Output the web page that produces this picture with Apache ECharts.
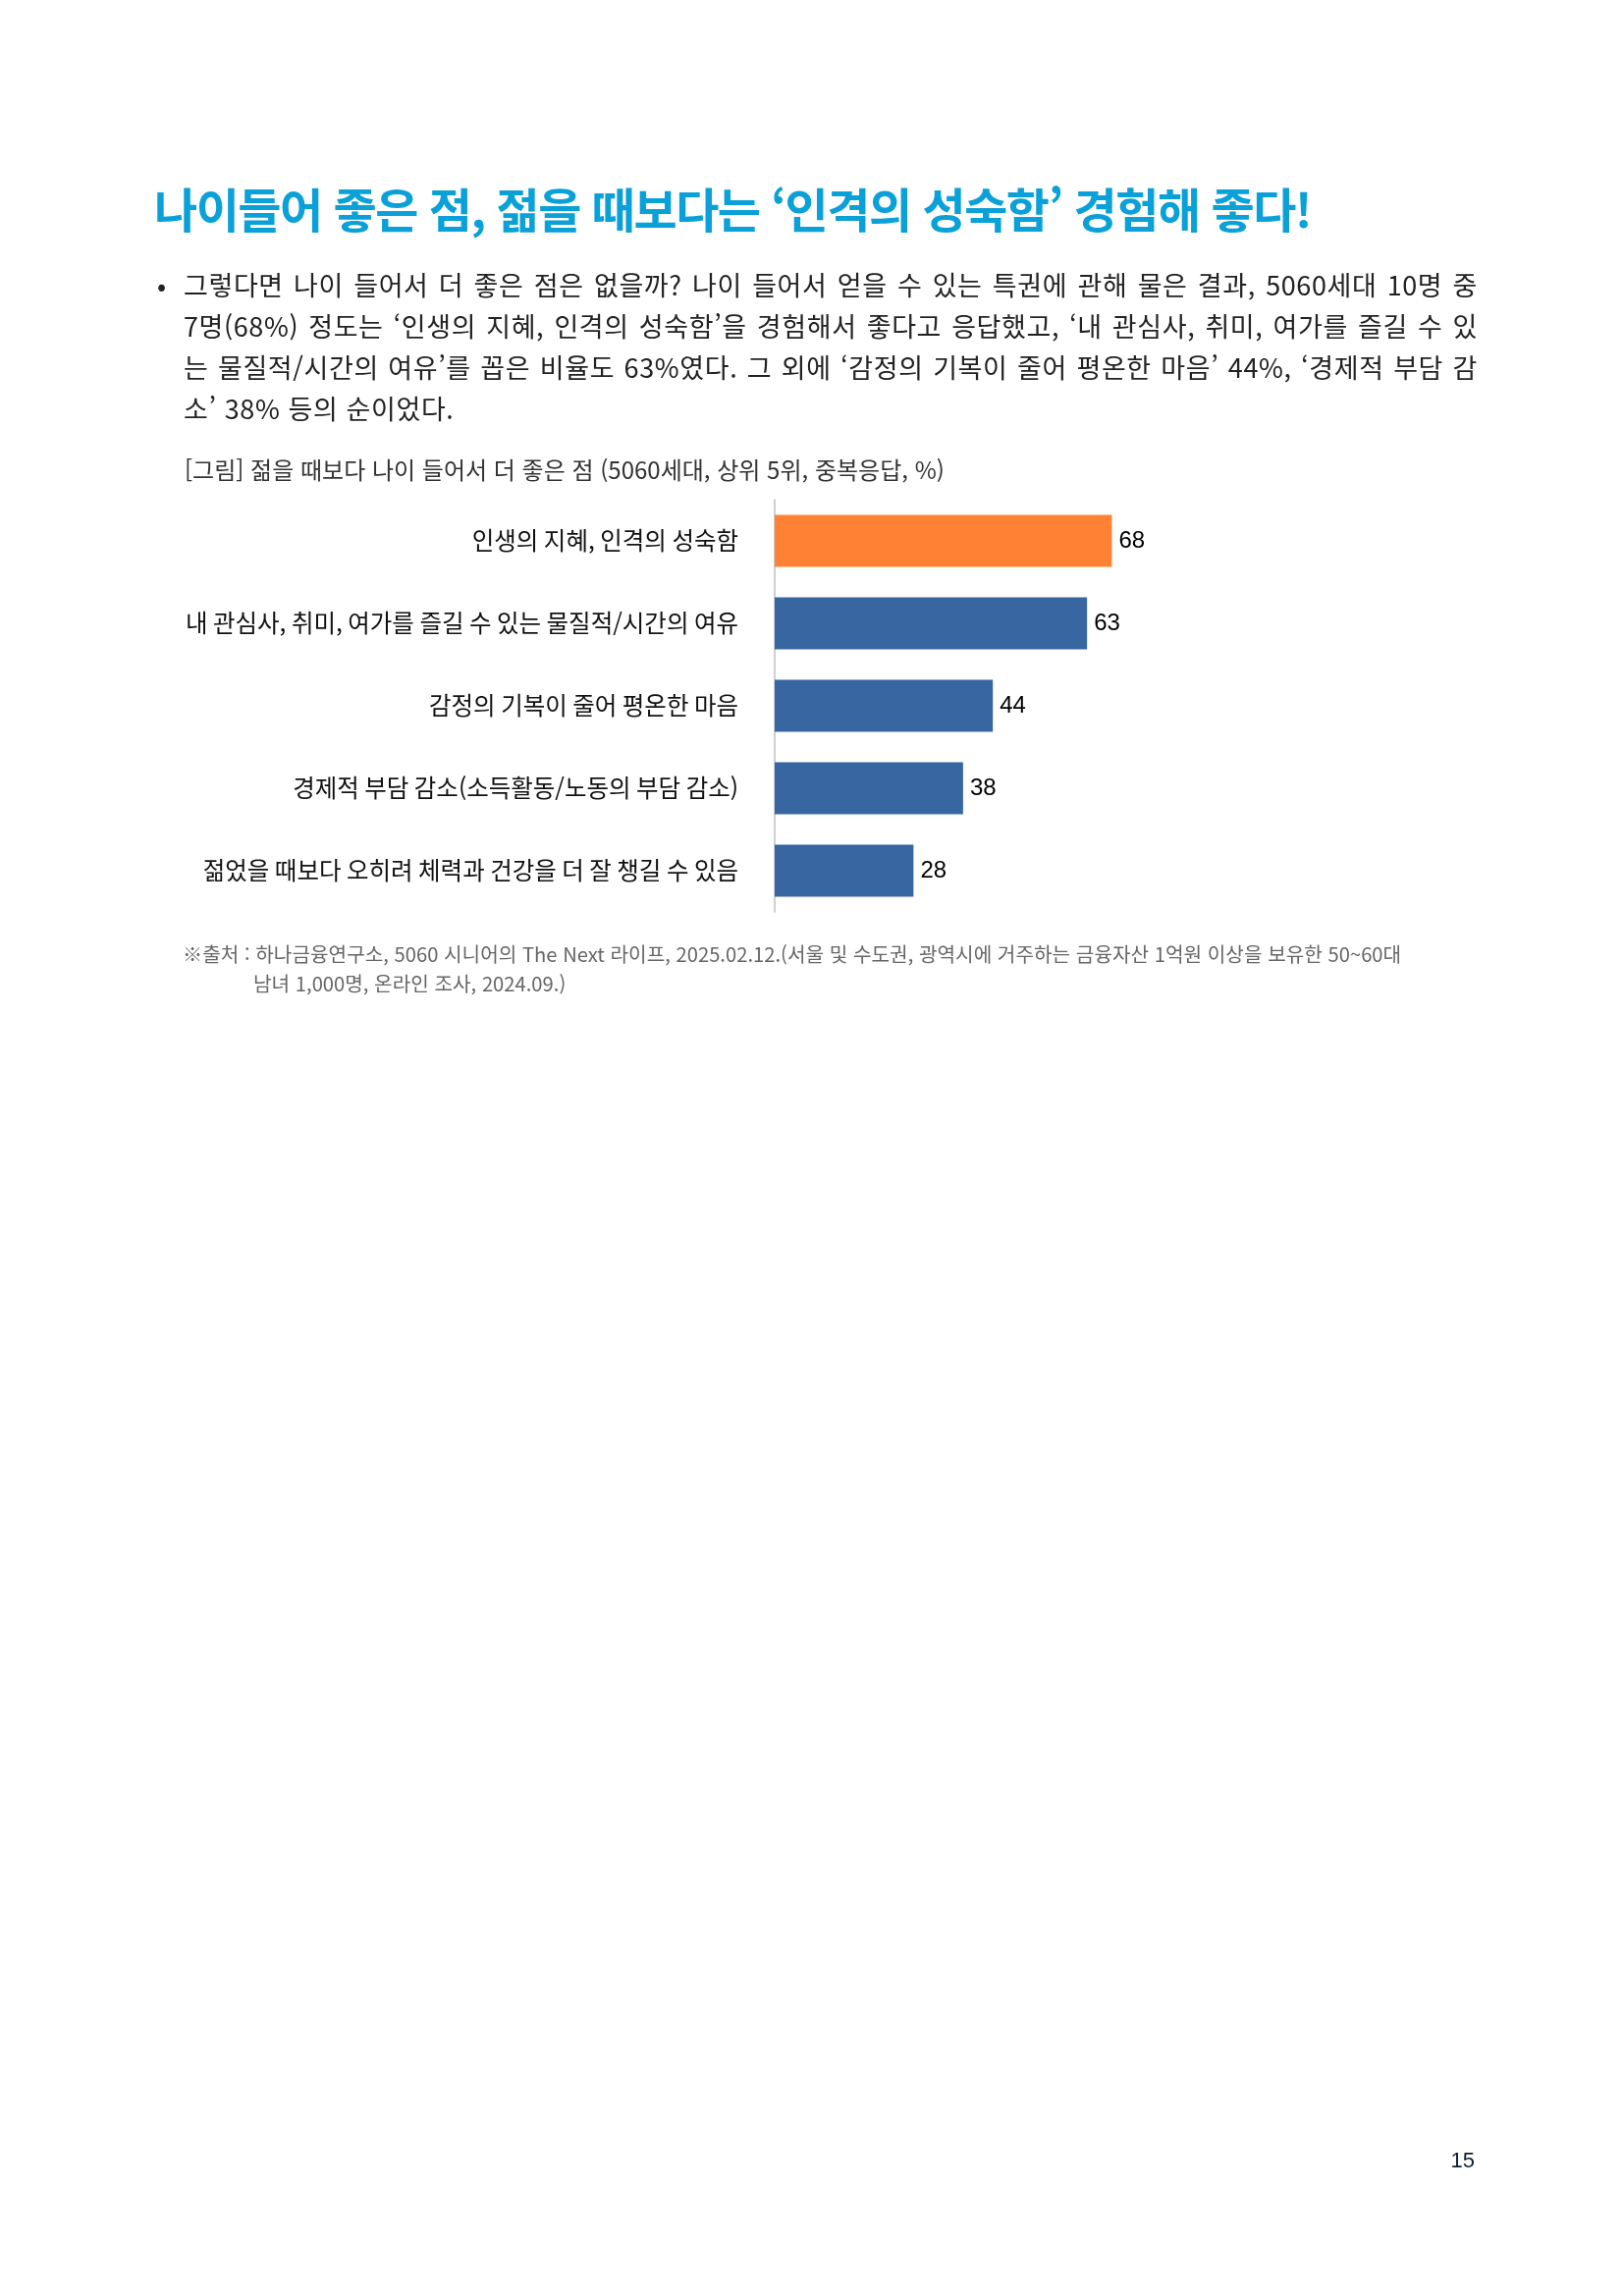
<!DOCTYPE html>
<html lang="ko">
<head>
<meta charset="UTF-8">
<title>젊을 때보다 나이 들어서 더 좋은 점</title>
<script src="https://cdn.jsdelivr.net/npm/echarts@6/dist/echarts.min.js"></script>
<style>
  html, body { margin: 0; padding: 0; background: #fff; }
  body { width: 1653px; height: 2339px; position: relative; overflow: hidden;
         font-family: "Noto Sans CJK KR", "Noto Sans", sans-serif; }
  #chart { position: absolute; left: 0; top: 0; width: 1653px; height: 2339px; }
  .txt { position: absolute; white-space: nowrap; }
  .title { left: 157px; top: 181px; line-height: 60px; font-size: 48px; font-weight: bold;
           color: #0aa0d8; letter-spacing: -1.5px; }
  .bullet { left: 160px; top: 269px; line-height: 42px; font-size: 27px; color: #222; }
  .para { left: 187px; top: 269px; width: 1318px; font-size: 27px; line-height: 42px; color: #222;
          letter-spacing: 0.6px; }
  .para div { white-space: nowrap; text-align: justify; text-align-last: justify; }
  .para div.last { text-align: left; text-align-last: left; }
  .caption { left: 188px; top: 463px; line-height: 30px; font-size: 24px; color: #333; }
  .source { left: 186px; top: 957px; line-height: 30px; font-size: 20.2px; color: #666; }
  .source .l2 { padding-left: 72px; }
  .pageno { right: 151px; top: 2187px; line-height: 28px; font-size: 22px; color: #0d1f33;
            font-family: "Liberation Sans", sans-serif; }
</style>
</head>
<body>
<div id="chart"></div>

<div class="txt title">나이들어 좋은 점, 젊을 때보다는 ‘인격의 성숙함’ 경험해 좋다!</div>
<div class="txt bullet">•</div>
<div class="txt para">
  <div>그렇다면 나이 들어서 더 좋은 점은 없을까? 나이 들어서 얻을 수 있는 특권에 관해 물은 결과, 5060세대 10명 중</div>
  <div>7명(68%) 정도는 ‘인생의 지혜, 인격의 성숙함’을 경험해서 좋다고 응답했고, ‘내 관심사, 취미, 여가를 즐길 수 있</div>
  <div>는 물질적/시간의 여유’를 꼽은 비율도 63%였다. 그 외에 ‘감정의 기복이 줄어 평온한 마음’ 44%, ‘경제적 부담 감</div>
  <div class="last">소’ 38% 등의 순이었다.</div>
</div>
<div class="txt caption">[그림] 젊을 때보다 나이 들어서 더 좋은 점 (5060세대, 상위 5위, 중복응답, %)</div>
<div class="txt source">
  <div>※출처 : 하나금융연구소, 5060 시니어의 The Next 라이프, 2025.02.12.(서울 및 수도권, 광역시에 거주하는 금융자산 1억원 이상을 보유한 50~60대</div>
  <div class="l2">남녀 1,000명, 온라인 조사, 2024.09.)</div>
</div>
<div class="txt pageno">15</div>

<script>
// 데이터
var categories = [
  '인생의 지혜, 인격의 성숙함',
  '내 관심사, 취미, 여가를 즐길 수 있는 물질적/시간의 여유',
  '감정의 기복이 줄어 평온한 마음',
  '경제적 부담 감소(소득활동/노동의 부담 감소)',
  '젊었을 때보다 오히려 체력과 건강을 더 잘 챙길 수 있음'
];
var values = [68, 63, 44, 38, 28];
var highlightIndex = 0;

var myChart = echarts.init(document.getElementById('chart'));

var option = {
  animation: false,
  grid: { left: 789, top: 509, width: 505, height: 420, containLabel: false },
  xAxis: {
    type: 'value',
    min: 0,
    max: 100,
    show: false
  },
  yAxis: {
    type: 'category',
    inverse: true,
    data: categories,
    axisLine: { show: true, lineStyle: { color: '#bfbfbf', width: 1.5 } },
    axisTick: { show: false },
    axisLabel: {
      margin: 37,
      fontSize: 24.5,
      color: '#111',
      fontFamily: '"Noto Sans CJK KR", sans-serif'
    }
  },
  series: [{
    type: 'bar',
    barCategoryGap: '37%',
    data: values.map(function (v, i) {
      return {
        value: v,
        itemStyle: { color: i === highlightIndex ? '#ff8133' : '#3866a1' }
      };
    }),
    label: {
      show: true,
      position: 'right',
      distance: 7,
      fontSize: 24,
      color: '#000',
      fontFamily: '"Liberation Sans", Arial, sans-serif'
    }
  }]
};

myChart.setOption(option);
</script>
</body>
</html>
